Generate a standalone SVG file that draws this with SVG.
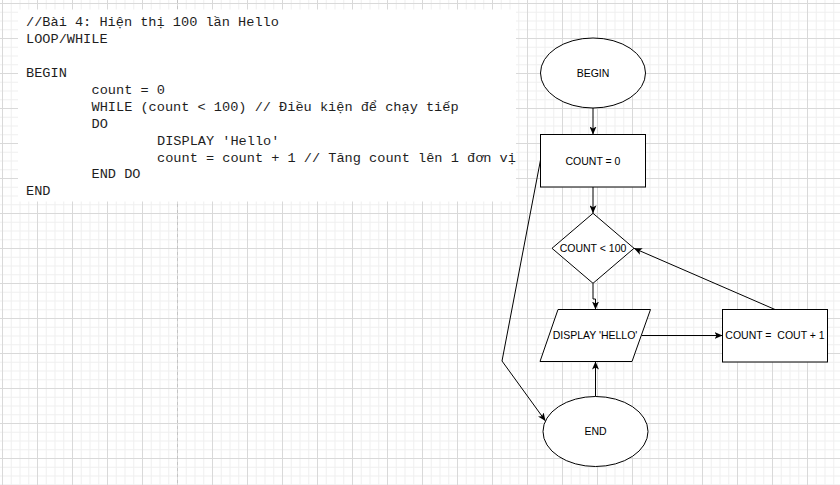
<svg xmlns="http://www.w3.org/2000/svg" width="840" height="485" viewBox="0 0 840 485">
  <defs>
    <pattern id="grid" width="35" height="35" patternUnits="userSpaceOnUse" x="2" y="3">
      <path d="M9.25,0 V35 M18,0 V35 M26.75,0 V35 M0,9.25 H35 M0,18 H35 M0,26.75 H35" fill="none" stroke="#efefef" stroke-width="1"/>
      <path d="M0.5,0 V35 M0,0.5 H35" fill="none" stroke="#d9d9d9" stroke-width="1"/>
    </pattern>
    <marker id="arrow" viewBox="0 0 8 7" refX="8" refY="3.5" markerWidth="8" markerHeight="7" markerUnits="userSpaceOnUse" orient="auto">
      <path d="M0,0 L8,3.5 L0,7 L2,3.5 Z" fill="#000"/>
    </marker>
    <style>
      .code { font-family: "Liberation Mono", "DejaVu Sans Mono", monospace; font-size: 13.6px; fill: #1e1e1e; }
      .shape { fill: #ffffff; stroke: #000000; stroke-width: 1; }
      .label { font-family: "Liberation Sans", Arial, sans-serif; font-size: 10.5px; fill: #000000; text-anchor: middle; }
      .edge { fill: none; stroke: #000000; stroke-width: 1; marker-end: url(#arrow); }
      .plain { fill: none; stroke: #000000; stroke-width: 1; }
    </style>
  </defs>

  <rect x="0" y="0" width="840" height="485" fill="#ffffff"/>
  <rect x="0" y="0" width="840" height="485" fill="url(#grid)"/>
  <line x1="177.5" y1="0" x2="177.5" y2="485" stroke="#c4c4c4" stroke-width="1" stroke-dasharray="3,3"/>

  <g id="code-block">
    <rect x="18" y="9.5" width="498" height="192" fill="#ffffff"/>
    <text class="code" x="26" y="26.2">//Bài 4: Hiện thị 100 lần Hello</text>
    <text class="code" x="26" y="43.1">LOOP/WHILE</text>
    <text class="code" x="26" y="77">BEGIN</text>
    <text class="code" x="91.5" y="93.9">count = 0</text>
    <text class="code" x="91.5" y="110.8">WHILE (count &lt; 100) // Điều kiện để chạy tiếp</text>
    <text class="code" x="91.5" y="127.7">DO</text>
    <text class="code" x="157" y="144.6">DISPLAY 'Hello'</text>
    <text class="code" x="157" y="161.5">count = count + 1 // Tăng count lên 1 đơn vị</text>
    <text class="code" x="91.5" y="178.4">END DO</text>
    <text class="code" x="26" y="195.3">END</text>
  </g>

  <g id="connectors">
    <path class="edge" d="M593,108 L593,134.5"/>
    <path class="edge" d="M593,187 L593,213.3"/>
    <path class="edge" d="M593,283.3 V299 H595.5 V309.5"/>
    <path class="edge" d="M641.5,335.5 L722.5,335.5"/>
    <path class="edge" d="M775,309.5 L634,248.3"/>
    <path class="edge" d="M595.5,396.5 L595.5,361.5"/>
    <path class="edge" d="M540.5,160 L502,361 L545.5,421"/>
  </g>

  <g id="node-begin">
    <ellipse class="shape" cx="593" cy="73" rx="52.5" ry="35"/>
    <text class="label" x="593" y="76.8">BEGIN</text>
  </g>
  <g id="node-count-init">
    <rect class="shape" x="540.5" y="134.5" width="105" height="52.5"/>
    <text class="label" x="593" y="164.5">COUNT = 0</text>
  </g>
  <g id="node-condition">
    <polygon class="shape" points="593,213.3 634,248.3 593,283.3 552,248.3"/>
    <text class="label" x="593" y="252.2">COUNT &lt; 100</text>
  </g>
  <g id="node-display">
    <polygon class="shape" points="558,309.5 650.5,309.5 632,361.5 540,361.5"/>
    <text class="label" x="595" y="339.3">DISPLAY 'HELLO'</text>
  </g>
  <g id="node-increment">
    <rect class="shape" x="722.5" y="309.5" width="105" height="52.5"/>
    <text class="label" x="775" y="339.3" xml:space="preserve">COUNT =  COUT + 1</text>
  </g>
  <g id="node-end">
    <ellipse class="shape" cx="595.5" cy="431.5" rx="52.5" ry="35"/>
    <text class="label" x="595.5" y="435.3">END</text>
  </g>
</svg>
